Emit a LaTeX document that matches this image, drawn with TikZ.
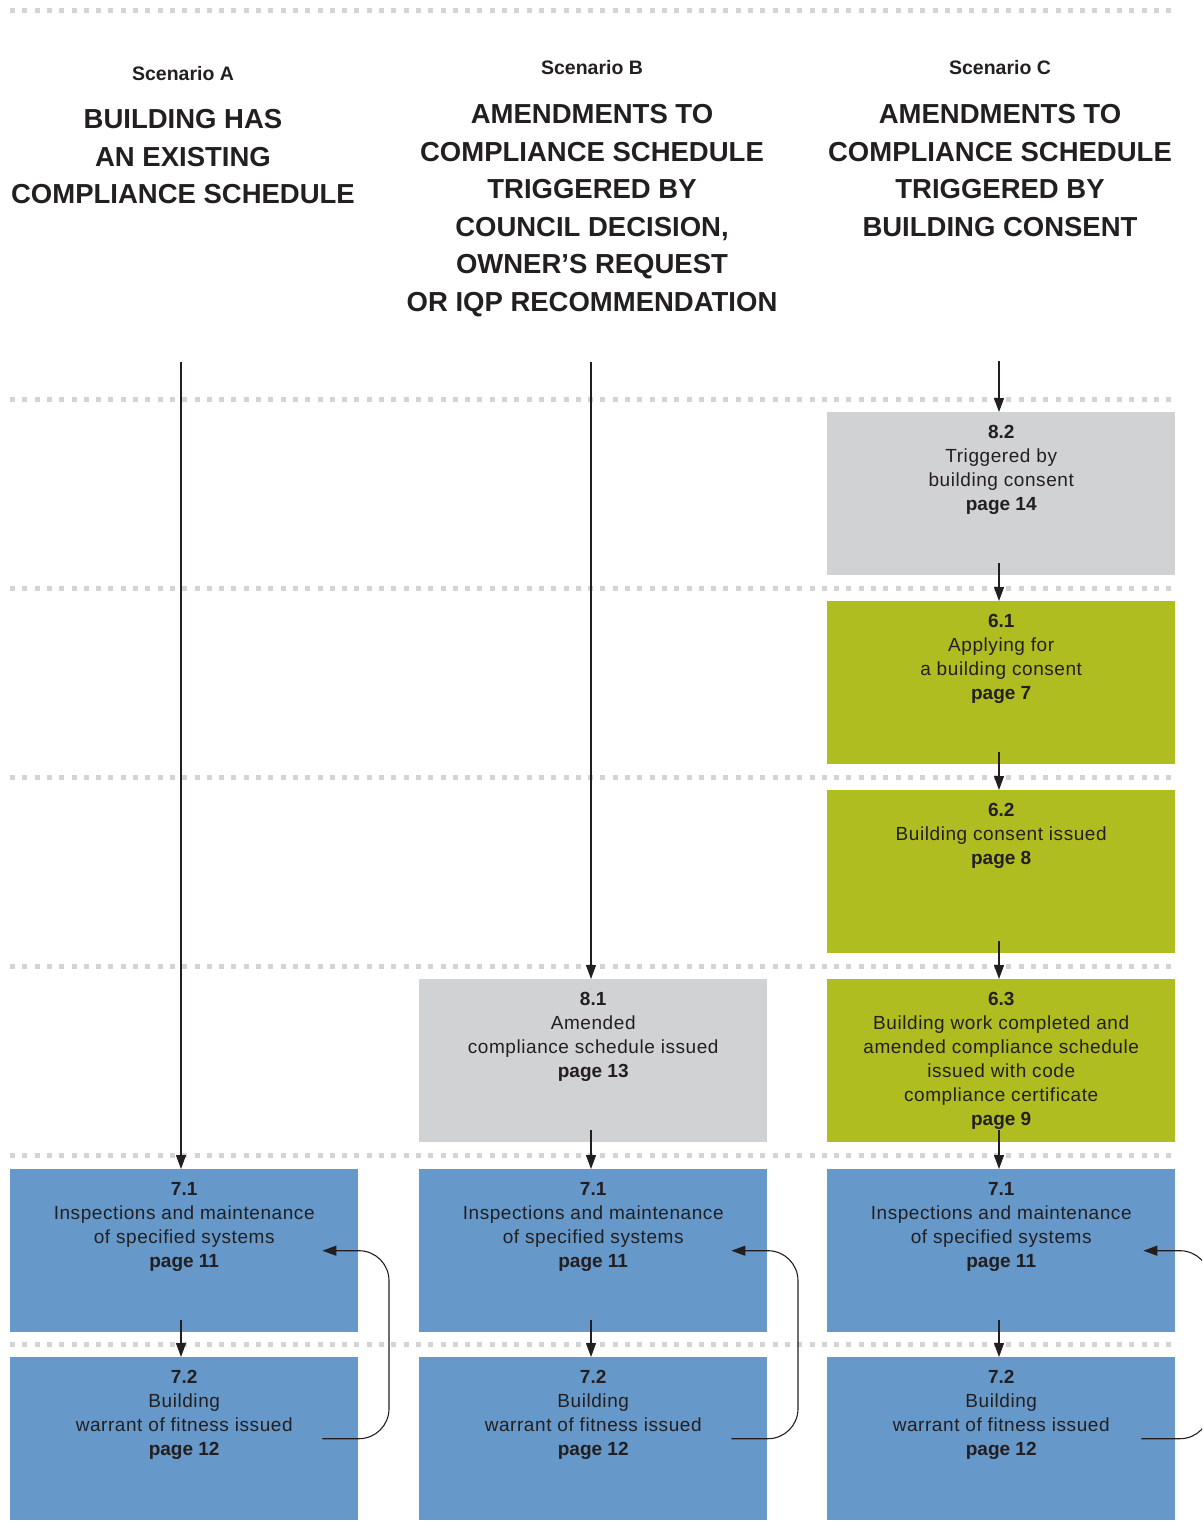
\documentclass[tikz,border=0pt]{standalone}
\usepackage{fontspec}
\setmainfont{Liberation Sans}
\newfontfamily\lightfont[LetterSpace=3]{Liberation Sans}
\usetikzlibrary{arrows.meta}
\definecolor{boxgray}{RGB}{209,210,212}
\definecolor{boxgreen}{RGB}{175,189,32}
\definecolor{boxblue}{RGB}{102,153,201}
\definecolor{dotgray}{RGB}{212,212,212}
\definecolor{ink}{RGB}{35,31,32}
\newcommand\bnum[1]{{\normalfont\bfseries #1}}
\begin{document}
\begin{tikzpicture}[x=1pt,y=-1pt,
  stepbox/.style={minimum width=348pt, minimum height=163pt, inner sep=0pt, anchor=north west, draw=none},
  graybox/.style={stepbox, fill=boxgray},
  greenbox/.style={stepbox, fill=boxgreen},
  bluebox/.style={stepbox, fill=boxblue},
  boxtext/.style={anchor=north, align=center, inner sep=0pt, text=ink, font=\lightfont\fontsize{19}{24}\selectfont},
  header/.style={anchor=center, inner sep=0pt, text=ink, font=\bfseries\fontsize{19.5}{24}\selectfont},
  title/.style={anchor=north, align=center, inner sep=0pt, text=ink, font=\bfseries\fontsize{27.5}{37.5}\selectfont},
  flow/.style={-{Triangle[length=14pt,width=10pt]}, line width=1.1pt, draw=ink},
  loopflow/.style={flow, rounded corners=30pt},
  dots/.style={draw=dotgray, line width=5pt, dash pattern=on 5pt off 7.3pt}]
\useasboundingbox (0,0) rectangle (1202,1531);
\clip (0,0) rectangle (1202,1531);
% dotted separators
\foreach \yy in {10,399,588,777,966,1155,1344,1533}{
  \draw[dots] (10,\yy) -- (1178,\yy);
}
% headers
\node[header] (hA) at (183,74) {Scenario A};
\node[header] (hB) at (592,68) {Scenario B};
\node[header] (hC) at (1000,68) {Scenario C};
\node[title] (tA) at (183,109.5) {BUILDING HAS\\AN EXISTING\\COMPLIANCE SCHEDULE};
\node[title] (tB) at (592,104.5) {AMENDMENTS TO\\COMPLIANCE SCHEDULE\\TRIGGERED BY\\COUNCIL DECISION,\\OWNER’S REQUEST\\OR IQP RECOMMENDATION};
\node[title] (tC) at (1000,104.5) {AMENDMENTS TO\\COMPLIANCE SCHEDULE\\TRIGGERED BY\\BUILDING CONSENT};
% boxes
\node[graybox] (c82) at (827,412) {};
\node[greenbox] (c61) at (827,601) {};
\node[greenbox] (c62) at (827,790) {};
\node[greenbox] (c63) at (827,979) {};
\node[graybox] (b81) at (419,979) {};
\node[bluebox] (a71) at (10,1169) {};
\node[bluebox] (b71) at (419,1169) {};
\node[bluebox] (c71) at (827,1169) {};
\node[bluebox] (a72) at (10,1357) {};
\node[bluebox] (b72) at (419,1357) {};
\node[bluebox] (c72) at (827,1357) {};
% box texts
\node[boxtext] (c82t) at ([yshift=-13pt]c82.north) {\bnum{8.2}\\Triggered by\\building consent\\\bnum{page 14}};
\node[boxtext] (c61t) at ([yshift=-13pt]c61.north) {\bnum{6.1}\\Applying for\\a building consent\\\bnum{page 7}};
\node[boxtext] (c62t) at ([yshift=-13pt]c62.north) {\bnum{6.2}\\Building consent issued\\\bnum{page 8}};
\node[boxtext] (c63t) at ([yshift=-13pt]c63.north) {\bnum{6.3}\\Building work completed and\\amended compliance schedule\\issued with code\\compliance certificate\\\bnum{page 9}};
\node[boxtext] (b81t) at ([yshift=-13pt]b81.north) {\bnum{8.1}\\Amended\\compliance schedule issued\\\bnum{page 13}};
\foreach \bx in {a71,b71,c71}{
  \node[boxtext] (\bx t) at ([yshift=-13pt]\bx.north) {\bnum{7.1}\\Inspections and maintenance\\of specified systems\\\bnum{page 11}};
}
\foreach \bx in {a72,b72,c72}{
  \node[boxtext] (\bx t) at ([yshift=-13pt]\bx.north) {\bnum{7.2}\\Building\\warrant of fitness issued\\\bnum{page 12}};
}
% column axes
\coordinate (xa) at (181,362);
\coordinate (xb) at (591,362);
\coordinate (xc) at (999,361);
% long connectors
\draw[flow] (xa) -- (xa |- a71.north);
\draw[flow] (xb) -- (xb |- b81.north);
\draw[flow] (xc) -- (xc |- c82.north);
% short connectors
\draw[flow] ([yshift=12pt]c82.south -| xc) -- (xc |- c61.north);
\draw[flow] ([yshift=12pt]c61.south -| xc) -- (xc |- c62.north);
\draw[flow] ([yshift=12pt]c62.south -| xc) -- (xc |- c63.north);
\draw[flow] ([yshift=12pt]c63.south -| xc) -- (xc |- c71.north);
\draw[flow] ([yshift=12pt]b81.south -| xb) -- (xb |- b71.north);
\draw[flow] ([yshift=12pt]a71.south -| xa) -- (xa |- a72.north);
\draw[flow] ([yshift=12pt]b71.south -| xb) -- (xb |- b72.north);
\draw[flow] ([yshift=12pt]c71.south -| xc) -- (xc |- c72.north);
% loops
\coordinate (la) at (389,0);
\coordinate (lb) at (798,0);
\coordinate (lc) at (1210,0);
\coordinate (a72s) at ([xshift=-36pt]a72.east);
\coordinate (a71e) at ([xshift=-36pt]a71.east);
\coordinate (b72s) at ([xshift=-36pt]b72.east);
\coordinate (b71e) at ([xshift=-36pt]b71.east);
\coordinate (c72s) at ([xshift=-34pt]c72.east);
\coordinate (c71e) at ([xshift=-32pt]c71.east);
\draw[loopflow] (a72s) -- (a72s -| la) -- (a71e -| la) -- (a71e);
\draw[loopflow] (b72s) -- (b72s -| lb) -- (b71e -| lb) -- (b71e);
\draw[loopflow] (c72s) -- (c72s -| lc) -- (c71e -| lc) -- (c71e);
\end{tikzpicture}
\end{document}
